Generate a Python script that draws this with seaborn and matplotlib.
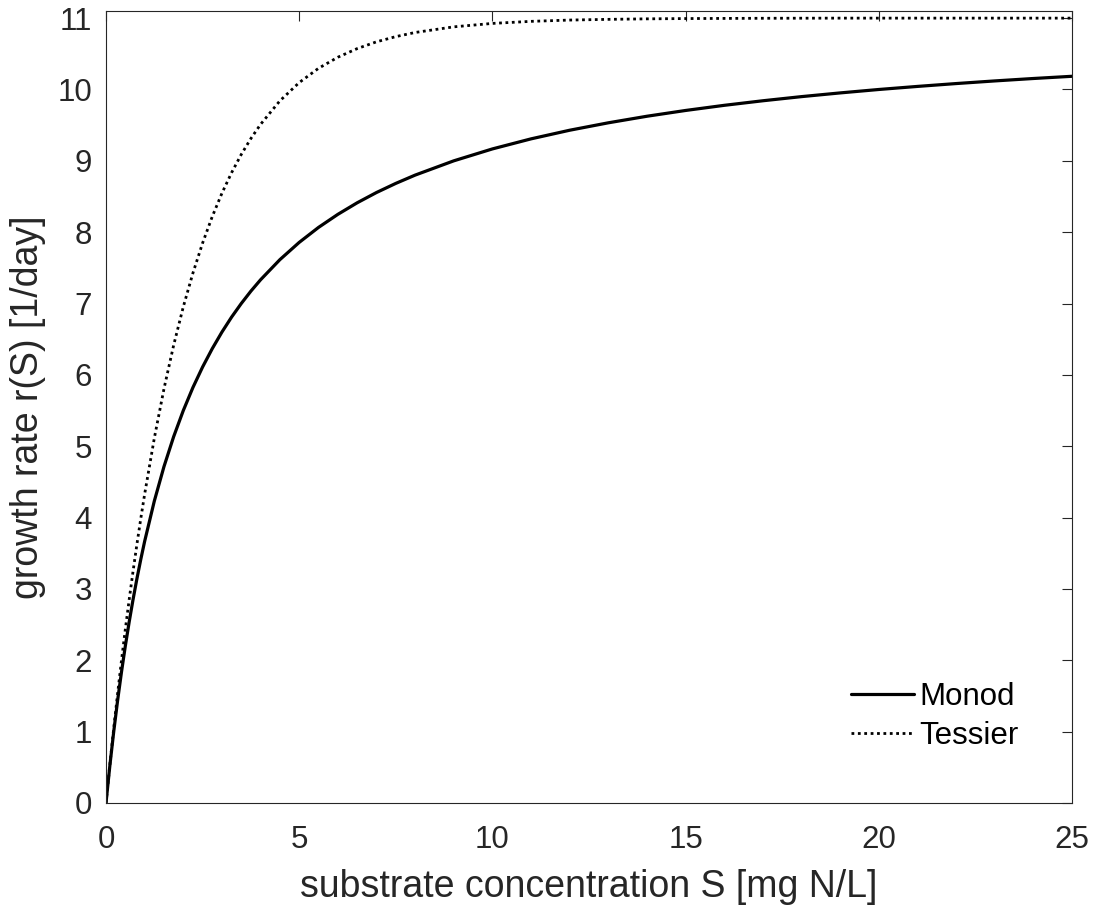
import numpy as np
import pandas as pd
import matplotlib
matplotlib.use("Agg")
import matplotlib.pyplot as plt
import seaborn as sns

# Substrate concentration S [mg N/L]
substrate = [0, 0.1, 0.2, 0.3, 0.4, 0.5, 0.6, 0.7, 0.8, 0.9, 1.0, 1.25, 1.5,
             1.75, 2.0, 2.25, 2.5, 2.75, 3.0, 3.25, 3.5, 3.75, 4.0, 4.5, 5.0,
             5.5, 6.0, 6.5, 7.0, 7.5, 8.0, 9.0, 10.0, 11.0, 12.0, 13.0, 14.0,
             15.0, 16.0, 17.0, 18.0, 19.0, 20.0, 21.0, 22.0, 23.0, 24.0, 25.0]

# Growth rate r(S) [1/day] for each kinetic model
monod = [0.000, 0.524, 1.000, 1.435, 1.833, 2.200, 2.538, 2.852, 3.143,
         3.414, 3.667, 4.231, 4.714, 5.133, 5.500, 5.824, 6.111, 6.368,
         6.600, 6.810, 7.000, 7.174, 7.333, 7.615, 7.857, 8.067, 8.250,
         8.412, 8.556, 8.684, 8.800, 9.000, 9.167, 9.308, 9.429, 9.533,
         9.625, 9.706, 9.778, 9.842, 9.900, 9.952, 10.000, 10.043, 10.083,
         10.120, 10.154, 10.185]
tessier = [0.000, 0.536, 1.047, 1.532, 1.994, 2.433, 2.851, 3.248, 3.626,
           3.986, 4.328, 5.112, 5.804, 6.414, 6.953, 7.428, 7.848, 8.219,
           8.546, 8.834, 9.089, 9.313, 9.511, 9.841, 10.097, 10.297, 10.452,
           10.573, 10.668, 10.741, 10.799, 10.878, 10.926, 10.955, 10.973,
           10.983, 10.990, 10.994, 10.996, 10.998, 10.999, 11.000, 11.000,
           11.000, 11.000, 11.000, 11.000, 11.000]

x_ticks = [0, 5, 10, 15, 20, 25]
y_ticks = list(range(0, 12))

sns.set_theme(style="white")
plt.rcParams["font.family"] = ["Liberation Sans", "DejaVu Sans"]

df = pd.DataFrame({"S": substrate, "Monod": monod, "Tessier": tessier})

fig = plt.figure(figsize=(10.94, 9.08), dpi=100)
ax = fig.add_axes([106 / 1094, 1 - 803 / 908, 966 / 1094, 792 / 908])

sns.lineplot(data=df, x="S", y="Monod", ax=ax, color="black", lw=2.3,
             label="Monod")
sns.lineplot(data=df, x="S", y="Tessier", ax=ax, color="black", lw=2.0,
             linestyle=(0, (1, 1.3)), label="Tessier")

ax.set_xlim(0, 25)
ax.set_ylim(0, 11.1)
ax.set_xticks(x_ticks)
ax.set_yticks(y_ticks)

axis_gray = "#262626"
for side in ["left", "right", "top", "bottom"]:
    ax.spines[side].set_visible(True)
    ax.spines[side].set_color(axis_gray)
    ax.spines[side].set_linewidth(0.8)
ax.tick_params(axis="both", which="both", direction="in", length=7,
               width=0.8, color=axis_gray, labelcolor=axis_gray,
               labelsize=22.5, top=True, right=True)
ax.tick_params(axis="x", pad=16)
ax.tick_params(axis="y", pad=10)

ax.set_xlabel("substrate concentration S [mg N/L]", fontsize=27,
              color=axis_gray, labelpad=10)
ax.set_ylabel("growth rate r(S) [1/day]", fontsize=27, color=axis_gray,
              labelpad=8)

leg = ax.legend(loc="lower left", bbox_to_anchor=(0.7555, 0.046),
                frameon=False, fontsize=22.5, handlelength=2.0,
                handletextpad=0.16, borderpad=0, labelspacing=0.28)
for text in leg.get_texts():
    text.set_color("black")

fig.savefig("out.png", dpi=100, facecolor="white")
